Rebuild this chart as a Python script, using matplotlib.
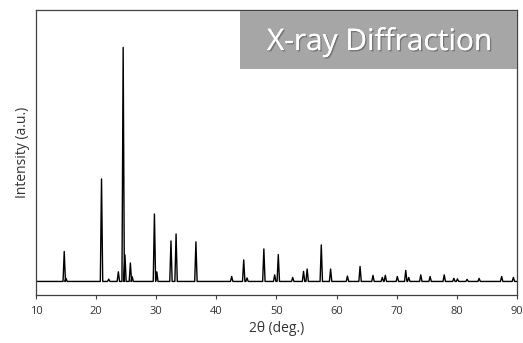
import matplotlib.pyplot as plt
import matplotlib.patheffects as pe
from matplotlib.patches import Rectangle

# peak positions (2theta, deg) and relative heights (% of strongest peak)
peak_pos = [14.7, 15.0, 20.9, 22.1, 23.7, 24.5, 24.8, 25.7, 26.0, 29.7, 30.1,
            32.45, 33.3, 36.6, 42.55, 44.55, 45.1, 47.9, 49.7, 50.3, 52.7,
            54.5, 55.1, 57.45, 59.0, 61.8, 63.9, 66.05, 67.6, 68.1, 70.1,
            71.5, 72.0, 74.0, 75.55, 77.9, 79.5, 80.1, 81.7, 83.7, 87.45, 89.4]
peak_int = [12.8, 1.3, 43.8, 1.0, 4.1, 100.0, 11.3, 7.9, 2.0, 28.8, 4.1,
            17.3, 20.3, 16.9, 2.1, 9.2, 1.5, 13.9, 2.8, 11.5, 1.7,
            4.3, 5.3, 15.6, 5.3, 2.3, 6.4, 2.6, 1.7, 2.6, 2.1,
            4.7, 1.7, 2.8, 2.1, 2.8, 1.3, 1.1, 0.9, 1.3, 2.1, 1.7]
x_ticks = [10, 20, 30, 40, 50, 60, 70, 80, 90]

plt.rcParams['font.family'] = ['Open Sans', 'DejaVu Sans']

# trace: baseline between peaks, narrow spike at each peak
half = 0.2
tt = [10.0]
yy = [0.0]
for p, h in zip(peak_pos, peak_int):
    tt += [p - half, p, p + half]
    yy += [0.0, h, 0.0]
tt.append(90.0)
yy.append(0.0)

fig = plt.figure(figsize=(5.23, 3.43), dpi=100)
ax = fig.add_axes([0.0688, 0.1399, 0.9197, 0.8324])
ax.plot(tt, yy, color='black', lw=1.0)

ax.set_xlim(10, 90)
ax.set_ylim(-5.8, 116.2)
ax.set_xticks(x_ticks)
ax.set_yticks([])
ax.tick_params(axis='x', direction='out', length=3, width=0.8,
               color='#404040', labelsize=8, labelcolor='#333333', pad=5)
for s in ax.spines.values():
    s.set_color('#404040')
    s.set_linewidth(0.9)

ax.set_xlabel('2θ (deg.)', fontsize=10, color='#333333', labelpad=3)
ax.set_ylabel('Intensity (a.u.)', fontsize=10, color='#333333', labelpad=4)

# title banner in the top right corner
fig.patches.append(Rectangle((0.4589, 0.7988), 0.5296, 0.1692,
                             transform=fig.transFigure, facecolor='#a6a6a6',
                             edgecolor='none', zorder=5))
fig.text(0.7256, 0.876, 'X-ray Diffraction', fontsize=21.5, color='white',
         ha='center', va='center', zorder=6,
         path_effects=[pe.withSimplePatchShadow(offset=(1, -1),
                                                shadow_rgbFace='#555555',
                                                alpha=0.6),
                       pe.Normal()])

fig.savefig('out.png', dpi=100)
